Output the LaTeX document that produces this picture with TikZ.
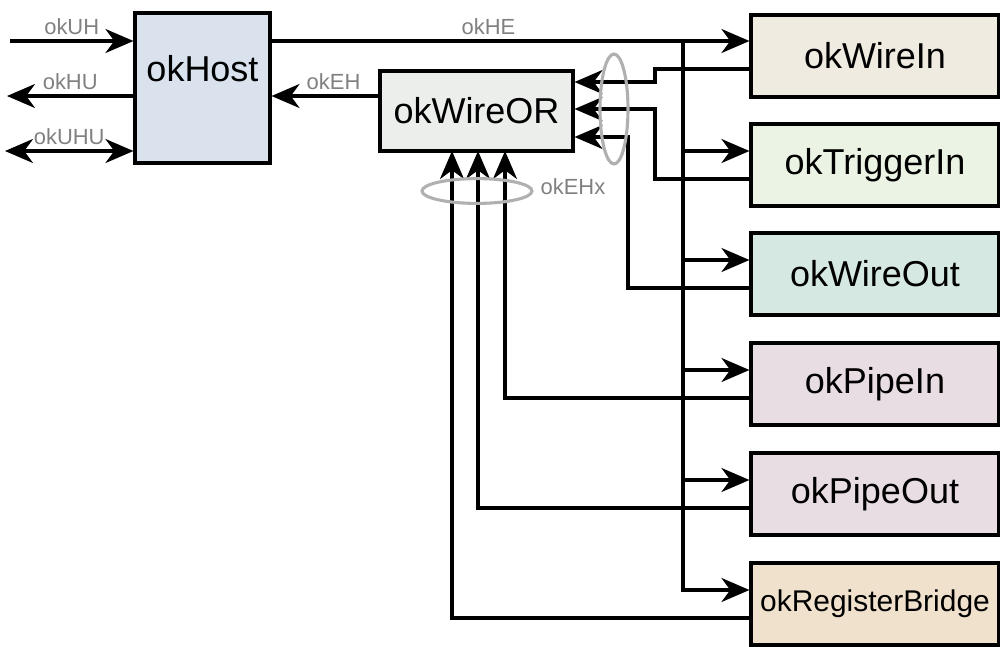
\documentclass[tikz,border=0pt]{standalone}
\usepackage{fontspec}
\setmainfont{Liberation Sans}
\usetikzlibrary{arrows.meta}

\definecolor{hostblue}{RGB}{218,227,237}
\definecolor{orgrey}{RGB}{236,238,236}
\definecolor{wireinbg}{RGB}{240,235,224}
\definecolor{triggerbg}{RGB}{235,244,228}
\definecolor{wireoutbg}{RGB}{214,232,226}
\definecolor{pipebg}{RGB}{233,221,228}
\definecolor{bridgebg}{RGB}{240,225,204}
\definecolor{labelgrey}{RGB}{128,128,128}
\definecolor{ringgrey}{RGB}{176,176,176}

\tikzset{
  >={Stealth[length=7mm,width=6mm,inset=2.2mm]},
  wire/.style={line width=2.2pt},
  block/.style={draw, line width=2.2pt, inner sep=0pt, font=\fontsize{25.6}{30}\selectfont},
  sidebox/.style={block, minimum width=62mm, minimum height=20.5mm},
  sig/.style={font=\fontsize{15.6}{18}\selectfont, text=labelgrey},
  ring/.style={draw=ringgrey, line width=2.2pt}
}

\begin{document}
\begin{tikzpicture}[x=0.25mm,y=-0.25mm]
\useasboundingbox (0,0) rectangle (1000,646);

% blocks
\node[block, fill=hostblue, minimum width=33.75mm, minimum height=37.5mm,
  label={[font=\fontsize{25.6}{30}\selectfont, anchor=center, yshift=-14.25mm]north:okHost}] (host) at (202.5,88) {};
\node[block, fill=orgrey, minimum width=48.25mm, minimum height=20mm] (wor) at (476.5,111) {okWireOR};

\node[sidebox, fill=wireinbg] (wirein) at (875,56) {okWireIn};
\node[sidebox, fill=triggerbg] (trigin) at (875,165) {okTriggerIn};
\node[sidebox, fill=wireoutbg] (wireout) at (875,274) {okWireOut};
\node[sidebox, fill=pipebg] (pipein) at (875,384) {okPipeIn};
\node[sidebox, fill=pipebg] (pipeout) at (875,494) {okPipeOut};
\node[sidebox, fill=bridgebg, font=\fontsize{21.3}{25}\selectfont] (bridge) at (875,604) {okRegisterBridge};

%-------------------------------------
% host side
\coordinate (uh) at (10,41);
\coordinate (hu) at (7,96);
\coordinate (uhu) at (5,151);
\draw[wire,->] (uh) -- (uh -| host.west) node[midway, above, sig] {okUH};
\draw[wire,<-] (hu) -- (hu -| host.west) node[midway, above, sig] {okHU};
\draw[wire,<->] (uhu) -- (uhu -| host.west) node[midway, above, sig] {okUHU};

\draw[wire,->] ([yshift=3.75mm]wor.west) -- ([yshift=3.75mm]wor.west -| host.east) node[pos=0.42, above, sig] {okEH};

%-------------------------------------
% okHE bus
\coordinate (bus) at (683,41);
\draw[wire,->] (bus -| host.east) -- (bus -| wirein.west) node[pos=0.454, above, sig] {okHE};

\coordinate (trigarr) at ([yshift=3.5mm]trigin.west);
\coordinate (wireoutarr) at ([yshift=3.5mm]wireout.west);
\coordinate (pipeinarr) at ([yshift=3.5mm]pipein.west);
\coordinate (pipeoutarr) at ([yshift=3.5mm]pipeout.west);
\coordinate (bridgearr) at ([yshift=3.5mm]bridge.west);

\draw[wire,->] (bus) |- (bridgearr);
\draw[wire,->] (bus |- trigarr) -- (trigarr);
\draw[wire,->] (bus |- wireoutarr) -- (wireoutarr);
\draw[wire,->] (bus |- pipeinarr) -- (pipeinarr);
\draw[wire,->] (bus |- pipeoutarr) -- (pipeoutarr);

%-------------------------------------
% okEHx returns
\coordinate (ret1) at (655,82);
\coordinate (ret2) at (655,109);
\coordinate (ret3) at (628,137);
\draw[wire,->] ([yshift=-3.25mm]wirein.west) -| (ret1) -- (ret1 -| wor.east);
\draw[wire,->] ([yshift=-3.5mm]trigin.west) -| (ret2) -- (ret2 -| wor.east);
\draw[wire,->] ([yshift=-3.5mm]wireout.west) -| (ret3) -- (ret3 -| wor.east);

\coordinate (ret4) at (505,151);
\coordinate (ret5) at (478,151);
\coordinate (ret6) at (452,151);
\draw[wire,->] ([yshift=-3.5mm]pipein.west) -| (ret4);
\draw[wire,->] ([yshift=-3.5mm]pipeout.west) -| (ret5);
\draw[wire,->] ([yshift=-3.5mm]bridge.west) -| (ret6);

% bundle rings
\draw[ring] (614,109) ellipse [x radius=3.5mm, y radius=13.75mm];
\draw[ring] (477,191) ellipse [x radius=13.75mm, y radius=3.1mm];
\node[sig] (ehx) at (573,187) {okEHx};
\end{tikzpicture}
\end{document}
